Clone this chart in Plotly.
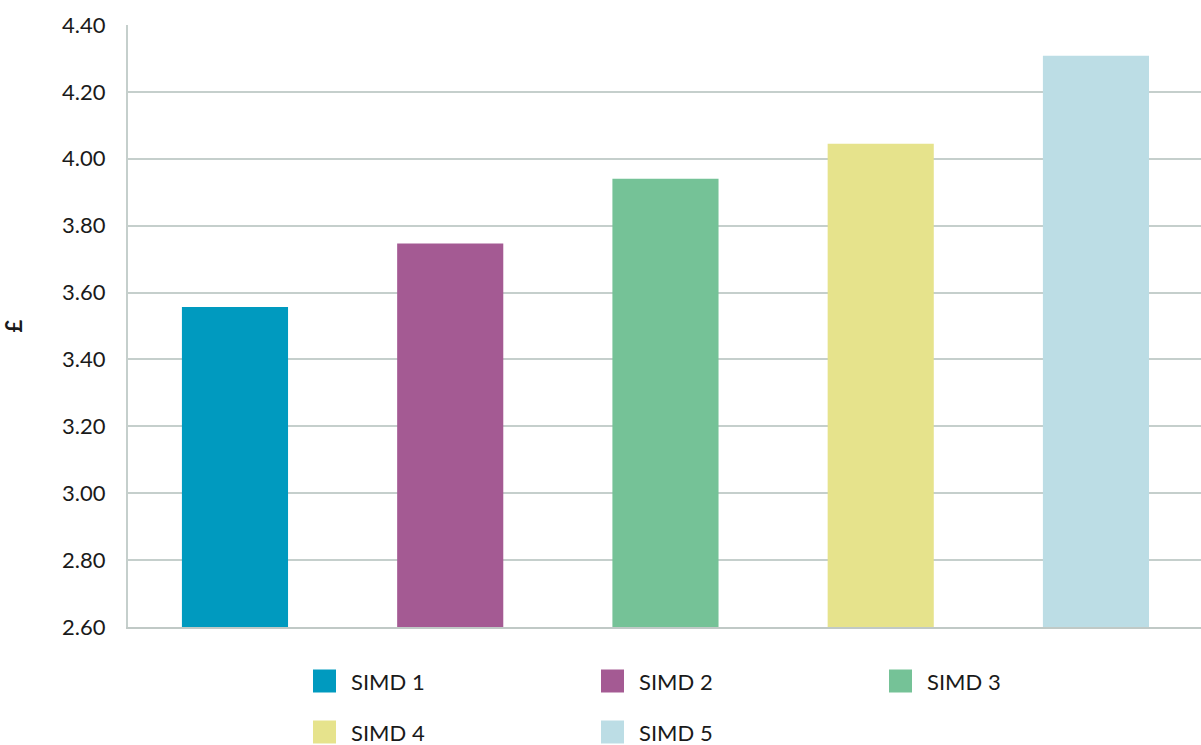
import plotly.graph_objects as go

categories = ["SIMD 1", "SIMD 2", "SIMD 3", "SIMD 4", "SIMD 5"]
values = [3.557, 3.747, 3.94, 4.045, 4.308]
colors = ["#009abf", "#a45a93", "#75c297", "#e6e38c", "#bcdde5"]
tick_vals = [2.6, 2.8, 3.0, 3.2, 3.4, 3.6, 3.8, 4.0, 4.2, 4.4]
tick_text = ["2.60", "2.80", "3.00", "3.20", "3.40", "3.60", "3.80", "4.00", "4.20", "4.40"]

FONT = "Lato, Open Sans, sans-serif"
FS = 22
fig = go.Figure()
fig.add_trace(go.Bar(x=categories, y=values, marker=dict(color=colors, line=dict(width=0)),
                     showlegend=False))

# custom legend (3 columns, 2 rows)
col_x = [313, 601, 889]
row_y = [681, 732]
shapes = []
annotations = []
W, H = 1201, 745
for i, (name, c) in enumerate(zip(categories, colors)):
    cx = col_x[i % 3]
    cy = row_y[i // 3]
    shapes.append(dict(type="rect", xref="paper", yref="paper",
                       x0=(cx - 128) / (W - 128), x1=(cx + 23 - 128) / (W - 128),
                       y0=(627 - (cy + 11.5)) / (627 - 25), y1=(627 - (cy - 11.5)) / (627 - 25),
                       fillcolor=c, line=dict(width=0), layer="above"))
    annotations.append(dict(xref="paper", yref="paper", x=(cx + 36 - 128) / (W - 128),
                            y=(627 - cy) / (627 - 25), text=name, showarrow=False,
                            xanchor="left", yanchor="middle",
                            font=dict(family=FONT, size=FS, color="#1a1a1a")))

fig.update_layout(
    width=W, height=H,
    margin=dict(l=128, r=0, t=25, b=118),
    paper_bgcolor="white", plot_bgcolor="white",
    bargap=0.507,
    shapes=shapes, annotations=annotations,
    font=dict(family=FONT, size=FS, color="#1a1a1a"),
)
fig.update_xaxes(range=[-0.497, 4.488], showticklabels=False, showgrid=False,
                 showline=True, linecolor="#c0c9c6", linewidth=2, zeroline=False, ticks="")
fig.update_yaxes(range=[2.6, 4.4], tickvals=tick_vals, ticktext=tick_text,
                 showgrid=True, gridcolor="#c5cfcc", gridwidth=2,
                 showline=True, linecolor="#c5cfcc", linewidth=2,
                 zeroline=False, ticks="", ticklabelstandoff=16,
                 tickfont=dict(family=FONT, size=FS, color="#1a1a1a"),
                 title=dict(text="<b>£</b>", font=dict(family=FONT, size=FS, color="#1a1a1a"), standoff=38))
fig.write_html("out.html")
